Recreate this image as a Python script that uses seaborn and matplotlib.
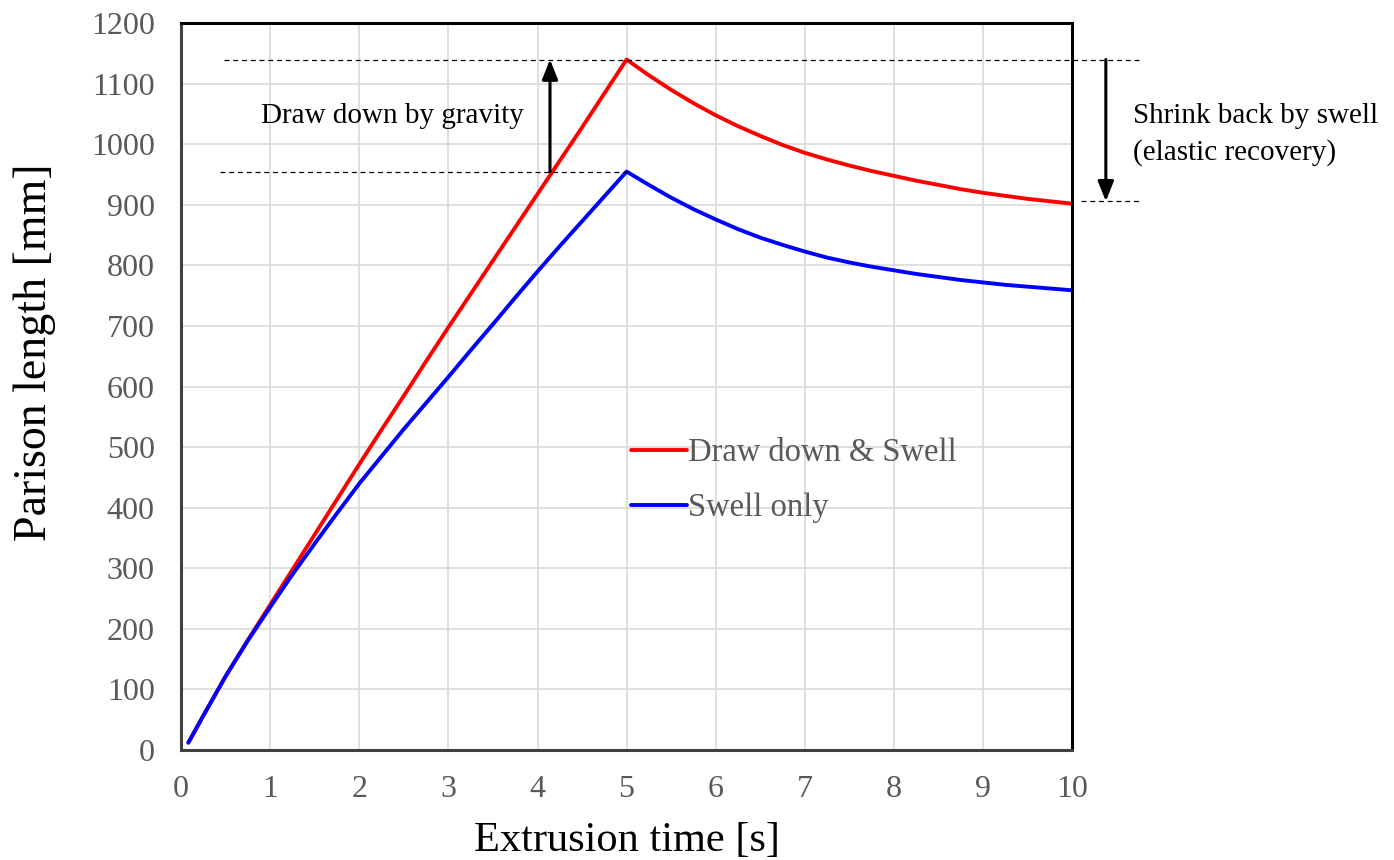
import numpy as np
import pandas as pd
import matplotlib
matplotlib.use("Agg")
import matplotlib.pyplot as plt
from matplotlib.lines import Line2D
import seaborn as sns

# Extrusion time [s]
time_s = [0.08, 0.25, 0.5, 0.75, 1.0, 1.25, 1.5, 1.75, 2.0, 2.25, 2.5, 2.75,
          3.0, 3.25, 3.5, 3.75, 4.0, 4.25, 4.5, 4.75, 5.0,
          5.25, 5.5, 5.75, 6.0, 6.25, 6.5, 6.75, 7.0, 7.25, 7.5, 7.75,
          8.0, 8.25, 8.5, 8.75, 9.0, 9.25, 9.5, 9.75, 10.0]
# Parison length [mm], gravity draw down plus swell
drawdown_swell = [12, 57, 122, 182, 240, 298, 356, 414, 472, 529, 585, 642,
                  698, 753, 808, 863, 918, 973, 1028, 1084, 1140,
                  1114, 1090, 1068, 1048, 1030, 1014, 999, 986, 975, 965, 956,
                  948, 940, 933, 926, 920, 915, 910, 906, 902]
# Parison length [mm], swell only
swell_only = [12, 57, 122, 181, 236, 290, 341, 391, 440, 485, 530, 573,
              616, 660, 703, 747, 790, 832, 873, 914, 955,
              933, 912, 893, 876, 860, 846, 834, 823, 813, 805, 798,
              792, 786, 781, 776, 772, 768, 765, 762, 759]

series_names = ["Draw down & Swell", "Swell only"]
series_colors = ["#ff0000", "#0000ff"]

x_ticks = list(range(0, 11))
y_ticks = list(range(0, 1201, 100))

df = pd.DataFrame({
    "time": time_s * 2,
    "length": drawdown_swell + swell_only,
    "series": [series_names[0]] * len(time_s) + [series_names[1]] * len(time_s),
})

sns.set_theme(style="whitegrid")
plt.rcParams["font.family"] = ["Liberation Serif", "DejaVu Serif"]

fig = plt.figure(figsize=(13.94, 8.60), dpi=100)
ax = fig.add_axes([0.130, 0.128, 0.639, 0.845])

sns.lineplot(data=df, x="time", y="length", hue="series",
             palette=dict(zip(series_names, series_colors)),
             linewidth=2.8, sort=False, ax=ax, legend=False)

ax.set_xlim(0, 10)
ax.set_ylim(0, 1200)
ax.set_xticks(x_ticks)
ax.set_yticks(y_ticks)
ax.set_xticklabels([str(v) for v in x_ticks])
ax.set_yticklabels([str(v) for v in y_ticks])
ax.tick_params(axis="both", colors="#595959", labelsize=23, length=0)
ax.tick_params(axis="x", pad=18)
ax.tick_params(axis="y", pad=19)
ax.grid(True, color="#d9d9d9", linewidth=1.2)
ax.set_facecolor("white")
for side in ["left", "bottom", "right", "top"]:
    ax.spines[side].set_visible(True)
    ax.spines[side].set_color("black")
    ax.spines[side].set_linewidth(2.2)
ax.spines["left"].set_color("#404040")
ax.spines["bottom"].set_color("#404040")

ax.set_xlabel("Extrusion time [s]", fontsize=30.5, color="black", labelpad=13)
ax.set_ylabel("Parison length [mm]", fontsize=33, color="black")
ax.yaxis.set_label_coords(-0.141, 0.547)

# Legend inside the plot area
handles = [Line2D([0], [0], color=c, linewidth=2.8) for c in series_colors]
leg = ax.legend(handles, series_names, loc="center left",
                bbox_to_anchor=(0.472, 0.371), frameon=False,
                fontsize=23.5, handlelength=1.7, handletextpad=0.05,
                labelspacing=0.75)
for t in leg.get_texts():
    t.set_color("#595959")

# Reference levels at the two peaks and the final length
red_peak = max(drawdown_swell)
blue_peak = max(swell_only)
red_end = drawdown_swell[-1]
dash = dict(color="black", linewidth=0.9, linestyle=(0, (4, 3)), clip_on=False)
ax.plot([0.48, 10.78], [red_peak, red_peak], **dash)
ax.plot([0.43, 5.0], [blue_peak, blue_peak], **dash)
ax.plot([10.1, 10.78], [red_end + 4, red_end + 4], **dash)

arrow = dict(arrowstyle="-|>,head_length=1.0,head_width=0.4", color="black",
             linewidth=2.2, shrinkA=0, shrinkB=0)
ax.annotate("", xy=(4.14, red_peak), xytext=(4.14, blue_peak),
            arrowprops=arrow, annotation_clip=False)
ax.annotate("", xy=(10.38, red_end + 4), xytext=(10.38, red_peak),
            arrowprops=arrow, annotation_clip=False)

ax.text(0.9, 1046, "Draw down by gravity", fontsize=21, color="black",
        ha="left", va="center")
ax.text(10.69, 1016, "Shrink back by swell\n(elastic recovery)", fontsize=21,
        color="black", ha="left", va="center", linespacing=1.5, clip_on=False)

fig.savefig("out.png", dpi=100, facecolor="white")
